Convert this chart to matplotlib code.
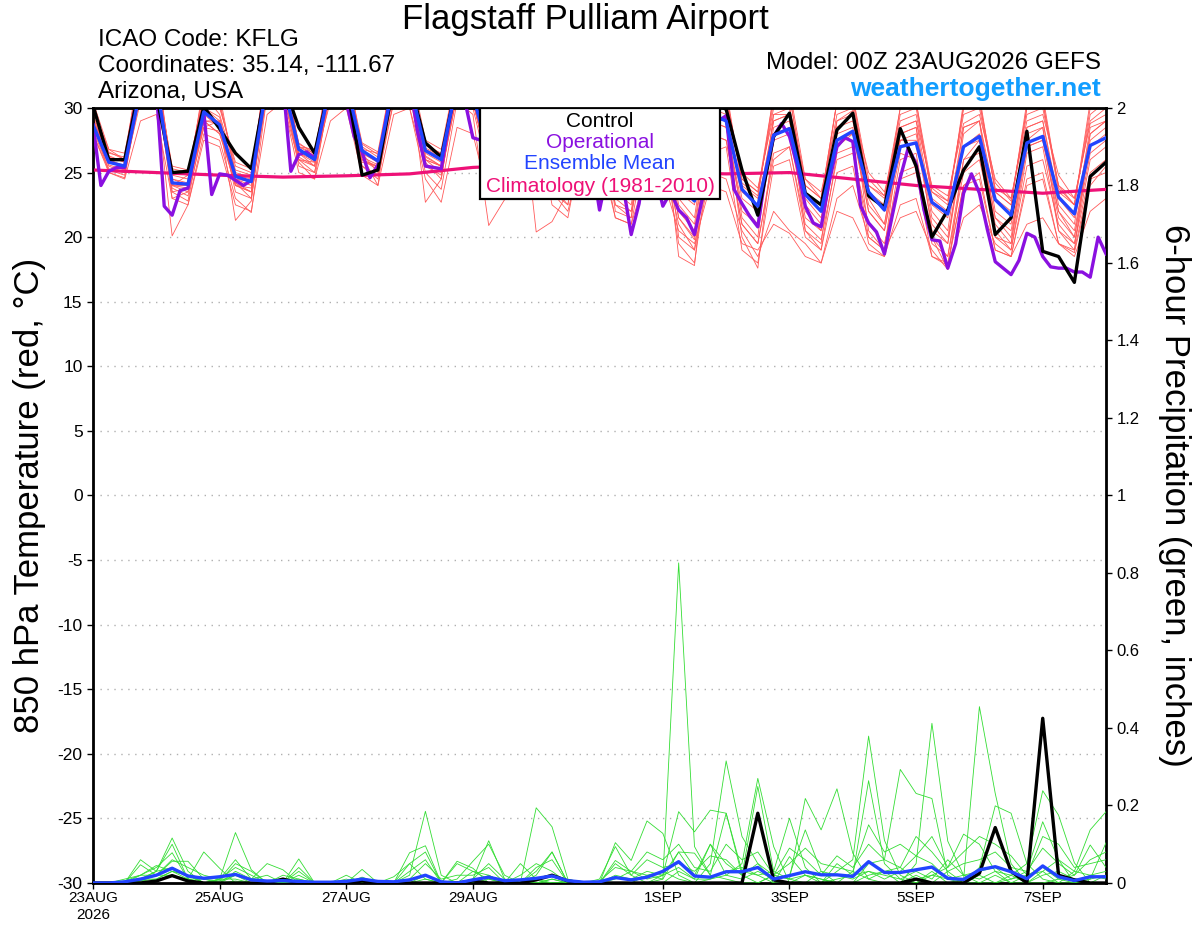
import numpy as np
import matplotlib
matplotlib.use("Agg")
import matplotlib.pyplot as plt
from matplotlib.patches import Rectangle

plt.rcParams['font.family'] = ['Liberation Sans', 'DejaVu Sans']
plt.rcParams['axes.unicode_minus'] = False

# forecast hours (6-hourly ensemble, 3-hourly operational, daily climatology)
hours6 = np.arange(0, 385, 6)
hours3 = np.arange(0, 385, 3)
clim_hours = np.arange(0, 385, 24)

tick_hours = [0, 48, 96, 144, 216, 264, 312, 360]
tick_labels = ['23AUG\n2026', '25AUG', '27AUG', '29AUG', '1SEP', '3SEP', '5SEP', '7SEP']

# 850 hPa temperature (C)
ens_mean_t = [28.7, 25.8, 25.5, 31.5, 32.0, 24.2, 24.1, 29.7,
              28.7, 24.7, 24.3, 32.0, 32.0, 26.8, 26.0, 32.0,
              32.0, 26.7, 25.9, 32.0, 32.0, 26.7, 26.0, 32.0,
              31.0, 26.5, 25.8, 31.0, 31.0, 25.8, 25.3, 31.0,
              30.5, 24.8, 24.0, 30.5, 30.5, 24.0, 22.8, 29.5,
              29.0, 23.7, 22.4, 27.9, 28.4, 23.3, 22.0, 27.5,
              28.2, 23.5, 22.1, 27.0, 27.3, 22.7, 21.8, 27.0,
              27.8, 22.9, 21.7, 27.3, 27.8, 23.1, 21.8, 27.1,
              27.7]

control_t = [30.2, 26.0, 26.0, 32.0, 31.0, 25.0, 25.1, 30.1,
             28.4, 26.5, 25.3, 32.0, 32.0, 28.5, 26.5, 32.0,
             32.0, 24.8, 25.2, 32.0, 32.0, 27.3, 26.2, 32.0,
             31.0, 27.0, 26.5, 32.0, 32.0, 27.0, 26.5, 32.0,
             31.0, 26.0, 25.5, 31.0, 31.0, 26.0, 25.0, 30.5,
             29.9, 25.2, 21.7, 27.8, 29.6, 23.4, 22.5, 28.3,
             29.6, 23.2, 22.3, 28.4, 25.5, 20.0, 22.1, 25.2,
             27.0, 20.2, 21.5, 28.2, 18.9, 18.5, 16.5, 24.7,
             25.8]

oper_t = [28.7, 24.0, 25.1, 25.4, 25.4, 29.0, 32.0, 33.0,
          31.5, 22.4, 21.7, 23.6, 23.8, 27.0, 29.7, 23.3,
          24.9, 24.8, 24.4, 24.0, 24.4, 28.5, 32.0, 33.0,
          32.0, 25.1, 26.4, 26.6, 26.1, 29.0, 32.0, 33.0,
          30.5, 27.8, 26.6, 24.6, 25.6, 29.0, 32.0, 33.0,
          32.0, 28.2, 25.5, 25.4, 25.3, 29.0, 32.0, 30.5,
          27.7, 27.5, 26.0, 25.0, 25.5, 28.0, 32.0, 33.0,
          32.0, 29.0, 26.0, 25.0, 25.0, 28.0, 31.0, 26.0,
          22.1, 25.0, 24.0, 23.9, 20.2, 22.6, 27.0, 25.0,
          22.4, 23.5, 22.1, 21.5, 20.2, 23.0, 27.0, 29.0,
          29.4, 23.7, 22.6, 21.6, 20.8, 24.9, 27.8, 28.8,
          27.8, 25.5, 22.4, 21.1, 20.8, 24.2, 27.0, 27.7,
          27.4, 22.4, 21.1, 20.4, 18.7, 21.7, 24.6, 26.9,
          25.7, 22.1, 19.8, 19.7, 17.6, 19.5, 23.4, 24.9,
          23.4, 20.6, 18.1, 17.6, 17.1, 18.2, 20.3, 20.0,
          18.5, 17.7, 17.6, 17.6, 17.3, 17.3, 16.9, 20.0,
          18.7]

clim_t = [25.2, 25.0, 24.8, 24.65, 24.75, 24.9, 25.4, 25.6, 25.4,
          25.0, 24.9, 25.0, 24.5, 24.0, 23.7, 23.4, 23.7]

member_t = [
    [29.5, 26.3, 25.8, 33.0, 32.5, 24.8, 24.5, 31.0,
     29.5, 25.2, 24.8, 33.5, 33.0, 27.3, 26.4, 33.0,
     32.5, 27.0, 26.2, 33.0, 32.0, 27.1, 26.5, 32.5,
     31.5, 27.0, 26.0, 32.0, 31.5, 26.5, 25.8, 32.0,
     31.0, 25.5, 24.8, 31.5, 31.0, 25.0, 24.0, 31.0,
     30.5, 25.0, 23.8, 29.5, 30.0, 24.5, 23.5, 29.0,
     29.8, 25.0, 23.5, 28.5, 29.0, 24.0, 23.2, 28.8,
     29.5, 24.5, 23.0, 29.0, 29.5, 24.8, 23.0, 28.8, 29.5],
    [28.0, 25.0, 24.6, 31.5, 31.0, 20.1, 22.5, 28.0,
     27.5, 23.0, 21.9, 31.0, 30.5, 25.8, 24.5, 31.5,
     31.0, 25.5, 24.5, 30.5, 31.0, 25.0, 23.7, 30.5,
     29.5, 20.9, 22.9, 29.0, 28.5, 23.5, 22.5, 29.5,
     28.5, 22.5, 21.5, 29.0, 28.5, 21.5, 19.8, 28.0,
     27.5, 21.0, 19.5, 26.0, 27.0, 21.0, 19.8, 26.0,
     26.5, 21.0, 19.5, 25.0, 25.5, 20.0, 18.5, 25.0,
     26.0, 20.5, 19.0, 25.5, 26.0, 21.0, 19.5, 25.0, 26.0],
    [29.0, 26.5, 26.2, 32.5, 33.0, 25.3, 25.0, 30.5,
     30.2, 25.5, 25.0, 32.0, 33.5, 27.0, 26.8, 32.5,
     33.0, 26.8, 26.5, 32.0, 33.5, 27.5, 26.8, 33.0,
     32.0, 27.5, 26.8, 32.5, 32.0, 26.8, 26.2, 32.0,
     31.5, 26.0, 25.2, 32.0, 31.5, 25.5, 24.5, 31.5,
     31.0, 24.5, 23.5, 31.0, 31.5, 24.5, 23.0, 30.5,
     31.0, 24.5, 23.2, 30.0, 30.5, 23.8, 22.8, 30.0,
     30.5, 24.2, 22.8, 30.0, 30.5, 24.0, 22.5, 30.5, 31.0],
    [28.5, 25.5, 25.0, 32.0, 31.5, 23.5, 23.8, 29.0,
     28.0, 24.5, 24.0, 32.0, 31.5, 26.5, 25.5, 32.5,
     32.0, 26.0, 25.5, 31.5, 31.0, 26.0, 25.5, 31.0,
     30.5, 25.5, 24.5, 29.5, 29.0, 24.0, 23.0, 28.5,
     28.0, 23.0, 22.0, 27.0, 26.5, 21.0, 19.0, 25.0,
     24.5, 20.5, 18.5, 22.0, 20.5, 19.5, 18.0, 23.0,
     24.0, 20.0, 19.0, 21.5, 22.0, 19.0, 17.5, 21.5,
     22.5, 19.5, 18.5, 21.0, 21.5, 19.5, 18.5, 22.0, 23.0],
    [30.5, 26.8, 26.0, 34.0, 34.0, 24.5, 24.2, 32.0,
     31.0, 24.8, 24.5, 34.0, 34.5, 26.5, 26.0, 34.0,
     34.0, 26.5, 25.8, 33.5, 34.0, 26.2, 25.5, 33.5,
     32.5, 26.0, 25.5, 33.0, 33.0, 25.5, 25.0, 33.0,
     32.5, 25.0, 24.5, 32.5, 32.0, 24.0, 23.0, 32.0,
     31.5, 24.0, 23.0, 31.0, 31.0, 23.5, 22.5, 30.5,
     31.0, 23.5, 22.5, 30.0, 30.5, 23.0, 22.0, 30.5,
     31.0, 23.5, 22.5, 30.5, 31.0, 23.8, 22.5, 30.0, 30.5],
    [28.8, 25.6, 25.2, 30.5, 31.0, 23.8, 23.2, 28.5,
     29.0, 23.5, 23.0, 31.5, 31.0, 26.0, 25.8, 30.5,
     31.0, 26.5, 25.0, 30.5, 30.0, 25.5, 24.8, 31.0,
     30.0, 25.0, 24.0, 30.5, 30.5, 24.5, 23.5, 30.0,
     29.5, 23.5, 22.5, 29.5, 29.0, 22.0, 20.5, 29.0,
     28.5, 22.5, 21.0, 28.5, 29.0, 22.5, 21.0, 28.0,
     28.5, 22.0, 20.5, 27.5, 28.0, 21.5, 20.0, 27.0,
     28.0, 21.5, 20.0, 27.5, 28.5, 22.0, 20.5, 27.0, 28.0],
    [29.2, 26.0, 25.5, 32.5, 32.0, 23.0, 23.5, 30.0,
     29.0, 21.3, 22.8, 32.5, 32.0, 27.0, 26.3, 33.0,
     32.5, 26.3, 24.0, 32.5, 32.5, 22.7, 24.5, 32.0,
     31.0, 26.0, 25.5, 31.5, 20.4, 21.2, 23.5, 30.5,
     30.0, 22.5, 22.0, 30.0, 29.5, 18.5, 17.8, 29.5,
     29.0, 20.0, 17.6, 27.5, 28.0, 21.5, 20.5, 27.0,
     28.0, 22.0, 20.5, 26.5, 26.0, 20.0, 17.5, 26.0,
     27.5, 21.0, 19.5, 27.0, 27.5, 22.0, 20.0, 27.5, 28.5],
    [28.0, 25.2, 24.8, 31.0, 31.5, 24.0, 24.0, 28.5,
     28.2, 24.0, 23.5, 31.0, 31.5, 25.5, 25.0, 31.0,
     31.5, 25.8, 25.5, 31.5, 31.0, 26.5, 25.8, 31.5,
     31.0, 26.5, 25.0, 31.0, 30.5, 25.0, 24.5, 31.0,
     30.5, 24.5, 23.5, 30.5, 30.0, 23.0, 21.5, 30.0,
     29.5, 23.0, 22.0, 29.0, 29.5, 23.0, 21.5, 28.5,
     29.0, 23.0, 21.0, 28.0, 28.5, 22.0, 20.5, 28.5,
     29.0, 22.0, 21.0, 28.5, 29.0, 22.5, 21.0, 28.5, 29.0],
    [29.0, 25.8, 25.5, 32.0, 31.5, 24.5, 24.0, 29.5,
     28.5, 24.0, 23.8, 32.0, 32.5, 26.0, 25.5, 32.0,
     31.5, 26.0, 25.2, 31.0, 31.5, 26.0, 25.0, 31.0,
     30.5, 25.5, 24.5, 30.0, 29.0, 23.5, 22.0, 27.0,
     26.5, 21.5, 21.0, 25.0, 24.5, 20.5, 19.5, 24.0,
     23.5, 19.5, 19.0, 21.0, 20.3, 18.5, 18.0, 22.0,
     21.5, 19.0, 18.5, 22.5, 23.0, 18.5, 18.0, 24.0,
     24.5, 19.0, 18.5, 24.0, 24.5, 19.5, 19.0, 24.5, 25.0],
    [29.8, 26.8, 26.5, 33.0, 32.5, 25.5, 25.2, 31.0,
     30.0, 25.8, 25.3, 33.0, 33.0, 27.2, 26.6, 32.5,
     32.5, 27.2, 26.4, 32.5, 32.5, 27.3, 26.4, 32.0,
     31.5, 26.8, 26.3, 31.5, 31.5, 26.3, 25.8, 31.5,
     31.0, 25.8, 25.0, 31.0, 31.0, 24.8, 24.0, 30.5,
     30.5, 24.5, 23.5, 30.0, 30.0, 24.0, 23.0, 29.5,
     30.0, 24.0, 23.2, 29.0, 29.5, 23.5, 22.8, 29.5,
     30.0, 23.8, 23.0, 29.5, 30.0, 24.0, 23.0, 29.0, 30.0],
    [28.3, 25.3, 25.0, 31.5, 32.0, 23.5, 22.8, 29.0,
     28.8, 24.2, 23.0, 32.0, 31.5, 26.0, 25.0, 31.5,
     31.5, 25.5, 24.8, 32.0, 32.0, 25.8, 24.5, 32.0,
     31.5, 25.5, 24.0, 31.0, 31.0, 24.0, 22.5, 31.0,
     30.5, 22.0, 21.5, 30.5, 30.0, 20.0, 19.0, 29.5,
     29.0, 21.5, 20.0, 29.5, 29.5, 20.5, 19.5, 29.0,
     29.5, 20.5, 19.0, 28.0, 28.5, 20.5, 19.5, 28.0,
     29.0, 20.0, 19.5, 28.0, 28.5, 20.5, 19.0, 28.0, 29.0],
    [29.3, 26.2, 25.8, 32.0, 33.0, 24.0, 24.8, 30.0,
     29.3, 24.5, 24.3, 32.5, 32.0, 26.8, 26.2, 31.5,
     32.0, 26.5, 25.8, 32.0, 32.0, 26.8, 26.2, 32.0,
     31.0, 26.2, 25.8, 31.5, 31.5, 25.8, 25.0, 31.0,
     31.0, 24.5, 23.8, 31.0, 30.5, 23.5, 22.5, 30.5,
     30.0, 23.5, 22.5, 29.0, 29.5, 23.5, 22.5, 28.5,
     29.5, 23.5, 22.0, 28.5, 29.0, 22.5, 21.5, 28.5,
     29.0, 23.0, 22.0, 28.5, 29.0, 23.0, 21.5, 28.0, 29.0],
    [29.0, 25.0, 24.5, 29.0, 29.5, 23.0, 22.5, 27.5,
     27.0, 22.5, 22.0, 29.5, 30.5, 25.0, 24.5, 29.0,
     30.0, 24.8, 24.0, 29.5, 30.0, 24.5, 22.7, 28.5,
     28.0, 23.0, 22.9, 28.5, 29.0, 22.5, 21.5, 28.0,
     27.5, 21.5, 21.0, 27.5, 27.0, 19.5, 18.0, 26.5,
     27.0, 19.0, 18.0, 25.5, 26.0, 20.0, 19.0, 25.0,
     25.5, 19.5, 18.5, 24.5, 25.0, 18.5, 17.8, 24.0,
     25.0, 19.0, 18.5, 24.5, 25.0, 19.5, 18.8, 24.0, 25.5],
    [30.0, 26.6, 26.0, 33.5, 33.0, 25.0, 24.8, 31.5,
     30.5, 25.0, 24.6, 33.0, 33.5, 27.0, 26.5, 33.5,
     33.0, 27.3, 26.6, 33.0, 33.0, 26.9, 26.3, 33.0,
     32.0, 27.2, 26.6, 32.5, 32.0, 26.6, 26.0, 32.5,
     32.0, 25.5, 24.7, 32.0, 31.5, 24.5, 23.5, 31.5,
     31.0, 24.2, 23.2, 30.5, 31.0, 24.0, 23.0, 30.5,
     30.5, 24.0, 23.0, 29.5, 30.0, 23.5, 22.5, 30.0,
     30.5, 23.5, 22.5, 30.0, 30.5, 23.5, 22.5, 29.5, 30.5],
    [28.5, 25.8, 25.6, 31.0, 31.5, 24.0, 23.5, 29.0,
     28.0, 24.0, 23.5, 31.5, 32.0, 26.2, 25.5, 31.5,
     31.0, 26.0, 25.4, 31.5, 31.5, 26.0, 25.5, 31.5,
     30.5, 25.5, 24.8, 30.5, 30.0, 24.8, 23.8, 30.0,
     29.5, 23.8, 23.0, 29.5, 29.5, 22.5, 21.0, 29.0,
     28.5, 22.0, 21.0, 28.0, 28.5, 22.0, 20.5, 27.5,
     28.0, 22.5, 21.0, 27.5, 27.5, 21.0, 19.5, 27.0,
     27.5, 21.5, 20.5, 27.0, 27.5, 21.5, 20.0, 26.5, 27.5],
    [29.0, 26.0, 25.3, 32.0, 32.0, 24.0, 23.8, 29.0,
     29.0, 24.2, 23.5, 32.5, 32.0, 26.5, 25.8, 32.0,
     32.0, 26.2, 25.6, 32.0, 31.5, 26.3, 25.5, 31.5,
     30.5, 25.8, 25.2, 31.0, 30.5, 25.0, 24.0, 30.0,
     29.5, 24.0, 23.0, 29.0, 28.5, 21.5, 20.0, 28.0,
     27.5, 21.0, 19.5, 26.5, 27.0, 20.5, 19.0, 26.5,
     27.0, 20.0, 19.0, 26.0, 26.5, 19.5, 18.5, 26.0,
     26.5, 20.0, 19.0, 26.5, 27.0, 20.5, 19.5, 26.0, 27.0],
]

# 6-hour precipitation (inches)
ens_mean_p = [0, 0, 0.003, 0.01, 0.02, 0.038, 0.018, 0.012,
              0.016, 0.022, 0.008, 0.005, 0.006, 0.004, 0.002, 0.002,
              0.004, 0.01, 0.004, 0.003, 0.008, 0.02, 0.003, 0,
              0.008, 0.015, 0.006, 0.008, 0.012, 0.018, 0.006, 0.002,
              0.003, 0.014, 0.008, 0.015, 0.03, 0.055, 0.018, 0.015,
              0.029, 0.029, 0.04, 0.01, 0.019, 0.029, 0.021, 0.021,
              0.017, 0.055, 0.027, 0.027, 0.034, 0.041, 0.012, 0.009,
              0.034, 0.042, 0.029, 0.011, 0.044, 0.016, 0.006, 0.016,
              0.016]

control_p = [0, 0, 0, 0, 0.005, 0.019, 0.005, 0,
             0, 0, 0, 0, 0.01, 0, 0, 0,
             0, 0.005, 0, 0, 0, 0, 0, 0,
             0.005, 0, 0, 0, 0.008, 0.02, 0.005, 0,
             0, 0, 0, 0, 0, 0, 0, 0,
             0, 0, 0.18, 0.008, 0, 0, 0, 0,
             0, 0, 0, 0, 0.01, 0, 0, 0,
             0.025, 0.143, 0.03, 0, 0.425, 0.02, 0.008, 0,
             0]

member_p = [
    [0, 0, 0, 0.01, 0.03, 0.116, 0.03, 0,
     0, 0.005, 0, 0, 0, 0, 0, 0,
     0, 0, 0, 0, 0.02, 0.185, 0.02, 0,
     0, 0, 0, 0, 0, 0, 0, 0,
     0, 0, 0, 0, 0.01, 0.826, 0.094, 0.02,
     0.01, 0, 0, 0.02, 0.01, 0, 0, 0.03,
     0.06, 0.379, 0.11, 0.02, 0, 0.03, 0, 0.01,
     0.455, 0.231, 0.05, 0, 0, 0.01, 0, 0, 0.02],
    [0, 0, 0, 0.06, 0.03, 0.1, 0.01, 0,
     0.01, 0.13, 0.034, 0, 0, 0, 0, 0,
     0, 0, 0, 0, 0, 0.01, 0, 0,
     0.01, 0.109, 0.01, 0, 0.194, 0.145, 0.01, 0,
     0, 0, 0, 0.02, 0.03, 0.01, 0, 0.05,
     0.315, 0.12, 0.05, 0, 0, 0.02, 0.01, 0,
     0, 0.02, 0.03, 0, 0.05, 0.412, 0.108, 0.02,
     0, 0, 0.02, 0.05, 0.238, 0.175, 0.052, 0, 0],
    [0, 0, 0.01, 0.02, 0.04, 0.078, 0.01, 0.08,
     0.038, 0, 0, 0, 0, 0.02, 0, 0,
     0, 0, 0, 0, 0.078, 0.096, 0, 0,
     0, 0.01, 0, 0, 0.02, 0.08, 0, 0,
     0, 0.104, 0.058, 0.16, 0.128, 0.02, 0, 0.01,
     0.02, 0.05, 0.27, 0.094, 0, 0, 0.03, 0,
     0, 0.05, 0.06, 0.293, 0.231, 0.218, 0.02, 0,
     0, 0.02, 0, 0, 0.03, 0, 0.03, 0.137, 0.184],
    [0, 0, 0, 0.047, 0.02, 0.056, 0.056, 0.01,
     0, 0.02, 0, 0, 0, 0.062, 0, 0,
     0, 0, 0, 0, 0, 0, 0, 0.01,
     0.056, 0.1, 0.02, 0, 0, 0, 0, 0,
     0, 0, 0, 0, 0.02, 0.184, 0.132, 0.188,
     0.18, 0.02, 0, 0.02, 0.01, 0.218, 0.137, 0.243,
     0.077, 0.01, 0, 0, 0.02, 0, 0.03, 0,
     0.04, 0.199, 0.18, 0.05, 0.01, 0, 0, 0.02, 0.03],
    [0, 0, 0, 0.01, 0.03, 0.04, 0.02, 0,
     0.01, 0.06, 0.01, 0.05, 0.034, 0, 0, 0,
     0, 0, 0, 0, 0, 0, 0, 0.056,
     0.038, 0, 0, 0, 0.03, 0.08, 0, 0,
     0.01, 0.094, 0.02, 0, 0, 0.03, 0.01, 0.1,
     0.05, 0.02, 0.249, 0.03, 0.167, 0.04, 0, 0.01,
     0.02, 0.264, 0.05, 0.01, 0, 0.02, 0.01, 0,
     0.02, 0, 0.01, 0.03, 0.158, 0.06, 0, 0.01, 0.104],
    [0, 0, 0, 0.005, 0.01, 0.03, 0.01, 0.01,
     0.005, 0.05, 0.03, 0, 0, 0.01, 0, 0,
     0, 0.035, 0, 0, 0.05, 0.08, 0, 0,
     0.03, 0.02, 0, 0.05, 0.01, 0, 0, 0,
     0, 0.058, 0.03, 0.02, 0.01, 0.08, 0.077, 0.02,
     0.18, 0.03, 0.02, 0, 0.068, 0.02, 0.01, 0,
     0.03, 0.01, 0.03, 0.04, 0.01, 0.02, 0.04, 0.126,
     0.1, 0.03, 0, 0.02, 0.04, 0.01, 0.02, 0.098, 0.04],
    [0, 0, 0.005, 0.02, 0.02, 0.02, 0.01, 0,
     0.005, 0.02, 0.01, 0, 0, 0.04, 0, 0,
     0.02, 0, 0, 0.016, 0.05, 0.01, 0, 0.05,
     0.03, 0.01, 0, 0, 0, 0.01, 0, 0,
     0, 0.02, 0.01, 0.03, 0.02, 0.08, 0.02, 0.1,
     0.02, 0.01, 0.03, 0.01, 0.02, 0.137, 0.03, 0.02,
     0.01, 0.03, 0.02, 0.01, 0.03, 0.01, 0.06, 0.02,
     0.01, 0.03, 0.02, 0, 0.02, 0.03, 0.01, 0.01, 0.02],
    [0, 0, 0, 0.01, 0.01, 0.03, 0.02, 0,
     0.01, 0.01, 0, 0, 0.01, 0, 0, 0,
     0, 0, 0, 0, 0, 0.02, 0, 0,
     0, 0.02, 0, 0, 0, 0.01, 0, 0,
     0, 0.01, 0.03, 0.01, 0.02, 0.04, 0.01, 0.01,
     0.03, 0.04, 0.02, 0.03, 0.01, 0.02, 0, 0.05,
     0.02, 0.03, 0.01, 0.03, 0.07, 0.05, 0.01, 0.02,
     0.03, 0.04, 0.01, 0.02, 0.03, 0.06, 0.03, 0.02, 0.01],
    [0, 0, 0, 0.02, 0.045, 0.03, 0.02, 0,
     0, 0.03, 0.01, 0.02, 0, 0.03, 0, 0,
     0, 0.015, 0, 0, 0.01, 0.05, 0.01, 0.02,
     0.02, 0.04, 0, 0.02, 0.05, 0.03, 0, 0,
     0, 0.05, 0.02, 0.06, 0.04, 0.05, 0.03, 0.07,
     0.06, 0.02, 0.05, 0.02, 0.09, 0.06, 0.02, 0.07,
     0.04, 0.1, 0.06, 0.04, 0.12, 0.08, 0.03, 0.05,
     0.06, 0.08, 0.04, 0.03, 0.09, 0.05, 0.02, 0.06, 0.08],
    [0, 0, 0, 0.005, 0.02, 0.06, 0.04, 0.02,
     0.01, 0.04, 0.02, 0, 0.02, 0.01, 0, 0,
     0.01, 0, 0, 0, 0.03, 0.06, 0, 0,
     0.01, 0.05, 0.01, 0, 0.04, 0.06, 0, 0,
     0.005, 0.04, 0.03, 0.08, 0.06, 0.1, 0.04, 0.03,
     0.1, 0.06, 0.08, 0.02, 0.05, 0.09, 0.05, 0.04,
     0.03, 0.15, 0.08, 0.1, 0.07, 0.12, 0.04, 0.08,
     0.12, 0.1, 0.07, 0.02, 0.12, 0.1, 0.04, 0.05, 0.06],
]

red = '#ff5a5a'
green = '#33dd33'
purple = '#8a10e0'
blue = '#2244ff'
pink = '#ee1177'

fig = plt.figure(figsize=(12, 9.27), dpi=100)
ax = fig.add_axes([0.0775, 0.0475, 0.8442, 0.836])

for m in member_t:
    ax.plot(hours6, m, color=red, lw=0.6, zorder=2)
ax.plot(clim_hours, clim_t, color=pink, lw=2.3, zorder=3)
ax.plot(hours3, oper_t, color=purple, lw=2.4, zorder=4)
ax.plot(hours6, control_t, color='black', lw=2.4, zorder=5)
ax.plot(hours6, ens_mean_t, color=blue, lw=2.4, zorder=6)

ax.set_xlim(0, 384)
ax.set_ylim(-30, 30)
ax.set_yticks(np.arange(-30, 31, 5))
for y in np.arange(-25, 30, 5):
    ax.axhline(y, color='#b0b0b0', lw=1.0, ls=(0, (1, 4)), zorder=1)
ax.set_xticks(tick_hours)
ax.set_xticklabels(tick_labels)
ax.tick_params(axis='both', direction='out', length=4, width=1, labelsize=11)
ax.tick_params(axis='y', labelsize=12.5)
ax.tick_params(axis='x', pad=2)
for s in ax.spines.values():
    s.set_linewidth(2)

ax2 = ax.twinx()
for m in member_p:
    ax2.plot(hours6, m, color=green, lw=0.6, zorder=2)
ax2.plot(hours6, control_p, color='black', lw=2.4, zorder=3)
ax2.plot(hours6, ens_mean_p, color=blue, lw=2.4, zorder=4)
ax2.set_ylim(0, 2)
ax2.set_yticks(np.arange(0, 2.01, 0.2))
ax2.set_yticklabels(['0', '0.2', '0.4', '0.6', '0.8', '1', '1.2', '1.4', '1.6', '1.8', '2'])
ax2.tick_params(axis='y', direction='out', length=4, width=1, labelsize=12)
ax2.set_xlim(0, 384)

# legend box
ax2.add_patch(Rectangle((0.382, 0.8826), 0.237, 0.1174, transform=ax2.transAxes,
                        facecolor='white', edgecolor='black', lw=1.6, zorder=10))
leg_items = [('Control', 'black', 0.983), ('Operational', purple, 0.956),
             ('Ensemble Mean', blue, 0.929), ('Climatology (1981-2010)', pink, 0.899)]
for txt, col, yy in leg_items:
    ax2.text(0.5005, yy, txt, color=col, fontsize=15, ha='center', va='center',
             transform=ax2.transAxes, zorder=11)

fig.text(0.4875, 0.979, 'Flagstaff Pulliam Airport', fontsize=25, ha='center', va='center')
fig.text(0.0817, 0.9569, 'ICAO Code: KFLG', fontsize=17.5, ha='left', va='center')
fig.text(0.0817, 0.9288, 'Coordinates: 35.14, -111.67', fontsize=17.5, ha='left', va='center')
fig.text(0.0817, 0.9008, 'Arizona, USA', fontsize=17.5, ha='left', va='center')
fig.text(0.9175, 0.932, 'Model: 00Z 23AUG2026 GEFS', fontsize=17.5, ha='right', va='center')
fig.text(0.9175, 0.904, 'weathertogether.net', fontsize=19, ha='right', va='center',
         color='#119dff', fontweight='bold')
fig.text(0.025, 0.4655, '850 hPa Temperature (red, \u00b0C)', fontsize=25, rotation=90,
         ha='center', va='center')
fig.text(0.979, 0.4655, '6-hour Precipitation (green, inches)', fontsize=25, rotation=270,
         ha='center', va='center')

fig.savefig('out.png', dpi=100)
